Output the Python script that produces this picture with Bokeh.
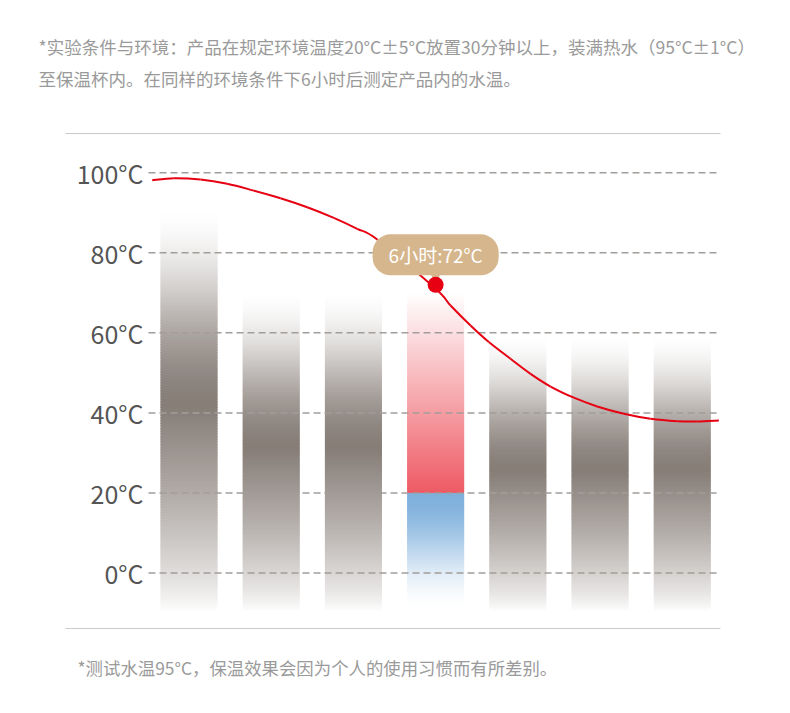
import numpy as np
from bokeh.plotting import figure
from bokeh.models import Range1d, Label, FixedTicker
from bokeh.embed import file_html
from bokeh.resources import INLINE

# ---------------- data ----------------
hours = [0, 2, 4, 6, 8, 10, 12]            # bar positions (hours)
bar_top = [92, 71, 71, 70, 60, 60, 60]     # bar heights (°C)
bar_base = -9.5                            # bars fade out below 0 °C
ambient = 20                               # ambient temperature split of highlighted bar
highlight_index = 3                        # the 6-hour bar

curve_h = [-0.895, -0.370, 0.280, 0.929, 1.577, 2.226, 2.876, 3.523, 4.092, 4.579,
           6.0, 6.363, 6.849, 7.294, 7.822, 8.309, 8.796, 9.363, 9.932, 10.579,
           11.229, 11.878, 12.365, 12.891]
curve_t = [98.13, 98.63, 98.30, 97.23, 95.52, 93.63, 91.38, 88.73, 85.99, 83.31,
           71.00, 66.83, 61.83, 57.70, 53.51, 49.76, 46.59, 43.80, 41.60, 39.77,
           38.52, 37.92, 37.85, 38.10]

marker_h = 6
marker_t = 72
marker_text = "6小时:72°C"

y_ticks = [0, 20, 40, 60, 80, 100]
y_tick_labels = ["0°C", "20°C", "40°C", "60°C", "80°C", "100°C"]

header_lines = [
    "*实验条件与环境：产品在规定环境温度20°C±5°C放置30分钟以上，装满热水（95°C±1°C）",
    "至保温杯内。在同样的环境条件下6小时后测定产品内的水温。",
]
footer_text = "*测试水温95°C，保温效果会因为个人的使用习惯而有所差别。"

# ---------------- styling / layout ----------------
FONT = "Noto Sans CJK SC"
GREY = (135, 126, 120)
RED_BAR = (238, 90, 100)
BLUE_BAR = (127, 176, 220)
LINE_RED = "#e60012"
TAN = "#d6b68c"

W, H = 780, 705
X0, X1 = -4.586, 14.39
Y0, Y1 = -33.10, 143.02
RULE_X0, RULE_X1 = -3.005, 12.93
RULE_TOP, RULE_BOTTOM = 109.79, -13.86
GRID_X0 = -0.985
bar_w = 1.387

p = figure(width=W, height=H,
           x_range=Range1d(X0, X1), y_range=Range1d(Y0, Y1),
           output_backend="svg", toolbar_location=None,
           x_axis_location=None, y_axis_location="left",
           min_border=0)
p.outline_line_color = None
p.grid.grid_line_color = None
p.background_fill_color = "white"
p.border_fill_color = "white"


def smooth(s):
    s = min(max(s, 0.0), 1.0)
    return 3 * s * s - 2 * s ** 3


def blend(rgb, a):
    a = min(max(a, 0.0), 1.0)
    r, g, b = (round(255 * (1 - a) + c * a) for c in rgb)
    return "#%02x%02x%02x" % (r, g, b)


L, R, B, T, C = [], [], [], [], []


def add_slices(h, lo_v, hi_v, n, fn, rgb):
    edges = np.linspace(lo_v, hi_v, n + 1)
    step = edges[1] - edges[0]
    for lo, hi in zip(edges[:-1], edges[1:]):
        mid = (lo + hi) / 2
        L.append(h - bar_w / 2)
        R.append(h + bar_w / 2)
        B.append(lo)
        T.append(min(hi + step * 0.6, hi_v))
        C.append(blend(rgb, fn(mid)))


for i, (h, top) in enumerate(zip(hours, bar_top)):
    if i == highlight_index:
        add_slices(h, bar_base, ambient, 60,
                   lambda m: smooth(1 - (ambient - m) / (ambient - bar_base)), BLUE_BAR)
        add_slices(h, ambient, top, 100,
                   lambda m, top=top: (top - m) / (top - ambient), RED_BAR)
    else:
        def prof(m, top=top):
            t = (top - m) / (top - bar_base)
            return smooth(t / 0.5) if t < 0.5 else ((1 - t) / 0.5) ** 0.8
        add_slices(h, bar_base, top, 150, prof, GREY)

p.quad(left=L, right=R, bottom=B, top=T, fill_color=C, fill_alpha=1.0, line_color=None)

# dashed grid lines
p.segment(x0=[GRID_X0] * len(y_ticks), x1=[RULE_X1] * len(y_ticks), y0=y_ticks, y1=y_ticks,
          line_color="#a29d99", line_width=1.5, line_dash="7 4")

# top / bottom rules
p.segment(x0=[RULE_X0, RULE_X0], x1=[RULE_X1, RULE_X1], y0=[RULE_TOP, RULE_BOTTOM],
          y1=[RULE_TOP, RULE_BOTTOM], line_color="#cdc9c5", line_width=1)

# y axis placed at grid start
ax = p.yaxis[0]
ax.fixed_location = GRID_X0
ax.ticker = FixedTicker(ticks=y_ticks)
ax.major_label_overrides = {k: v for k, v in zip(y_ticks, y_tick_labels)}
ax.axis_line_color = None
ax.major_tick_line_color = None
ax.minor_tick_line_color = None
ax.major_tick_out = 0
ax.major_tick_in = 0
ax.minor_tick_out = 0
ax.minor_tick_in = 0
ax.major_label_standoff = 5
ax.major_label_text_font = FONT
ax.major_label_text_font_size = "25px"
ax.major_label_text_color = "#555555"

# smooth curve through the read points (Catmull-Rom -> cubic Bezier)
px = [curve_h[0]] + curve_h + [curve_h[-1]]
py = [curve_t[0]] + curve_t + [curve_t[-1]]
bx0, by0, bx1, by1, c0x, c0y, c1x, c1y = ([] for _ in range(8))
for k in range(1, len(px) - 2):
    bx0.append(px[k]); by0.append(py[k])
    bx1.append(px[k + 1]); by1.append(py[k + 1])
    c0x.append(px[k] + (px[k + 1] - px[k - 1]) / 6)
    c0y.append(py[k] + (py[k + 1] - py[k - 1]) / 6)
    c1x.append(px[k + 1] - (px[k + 2] - px[k]) / 6)
    c1y.append(py[k + 1] - (py[k + 2] - py[k]) / 6)
p.bezier(x0=bx0, y0=by0, x1=bx1, y1=by1, cx0=c0x, cy0=c0y, cx1=c1x, cy1=c1y,
         line_color=LINE_RED, line_width=2)

# tooltip pointer + marker
ptr_off = 9 * (Y1 - Y0) / H
p.scatter([marker_h], [marker_t + ptr_off], marker="inverted_triangle", size=12,
          fill_color=TAN, line_color=None)
p.scatter([marker_h], [marker_t], size=16, fill_color=LINE_RED, line_color=None)

p.add_layout(Label(x=marker_h, y=marker_t, y_offset=30, text=marker_text,
                   text_align="center", text_baseline="middle",
                   text_color="white", text_font=FONT, text_font_size="19px",
                   background_fill_color=TAN, border_radius=18, padding=(16, 7)))

# header and footer texts
for k, line in enumerate(header_lines):
    p.add_layout(Label(x=38, y=H - 45.5 - 32 * k, x_units="screen", y_units="screen",
                       text=line, text_baseline="middle", text_font=FONT,
                       text_font_size="17.5px", text_color="#9a9a9a"))
p.add_layout(Label(x=77, y=H - 667, x_units="screen", y_units="screen",
                   text=footer_text, text_baseline="middle", text_font=FONT,
                   text_font_size="17.4px", text_color="#9a9a9a"))

open("out.html", "w").write(file_html(p, INLINE))
